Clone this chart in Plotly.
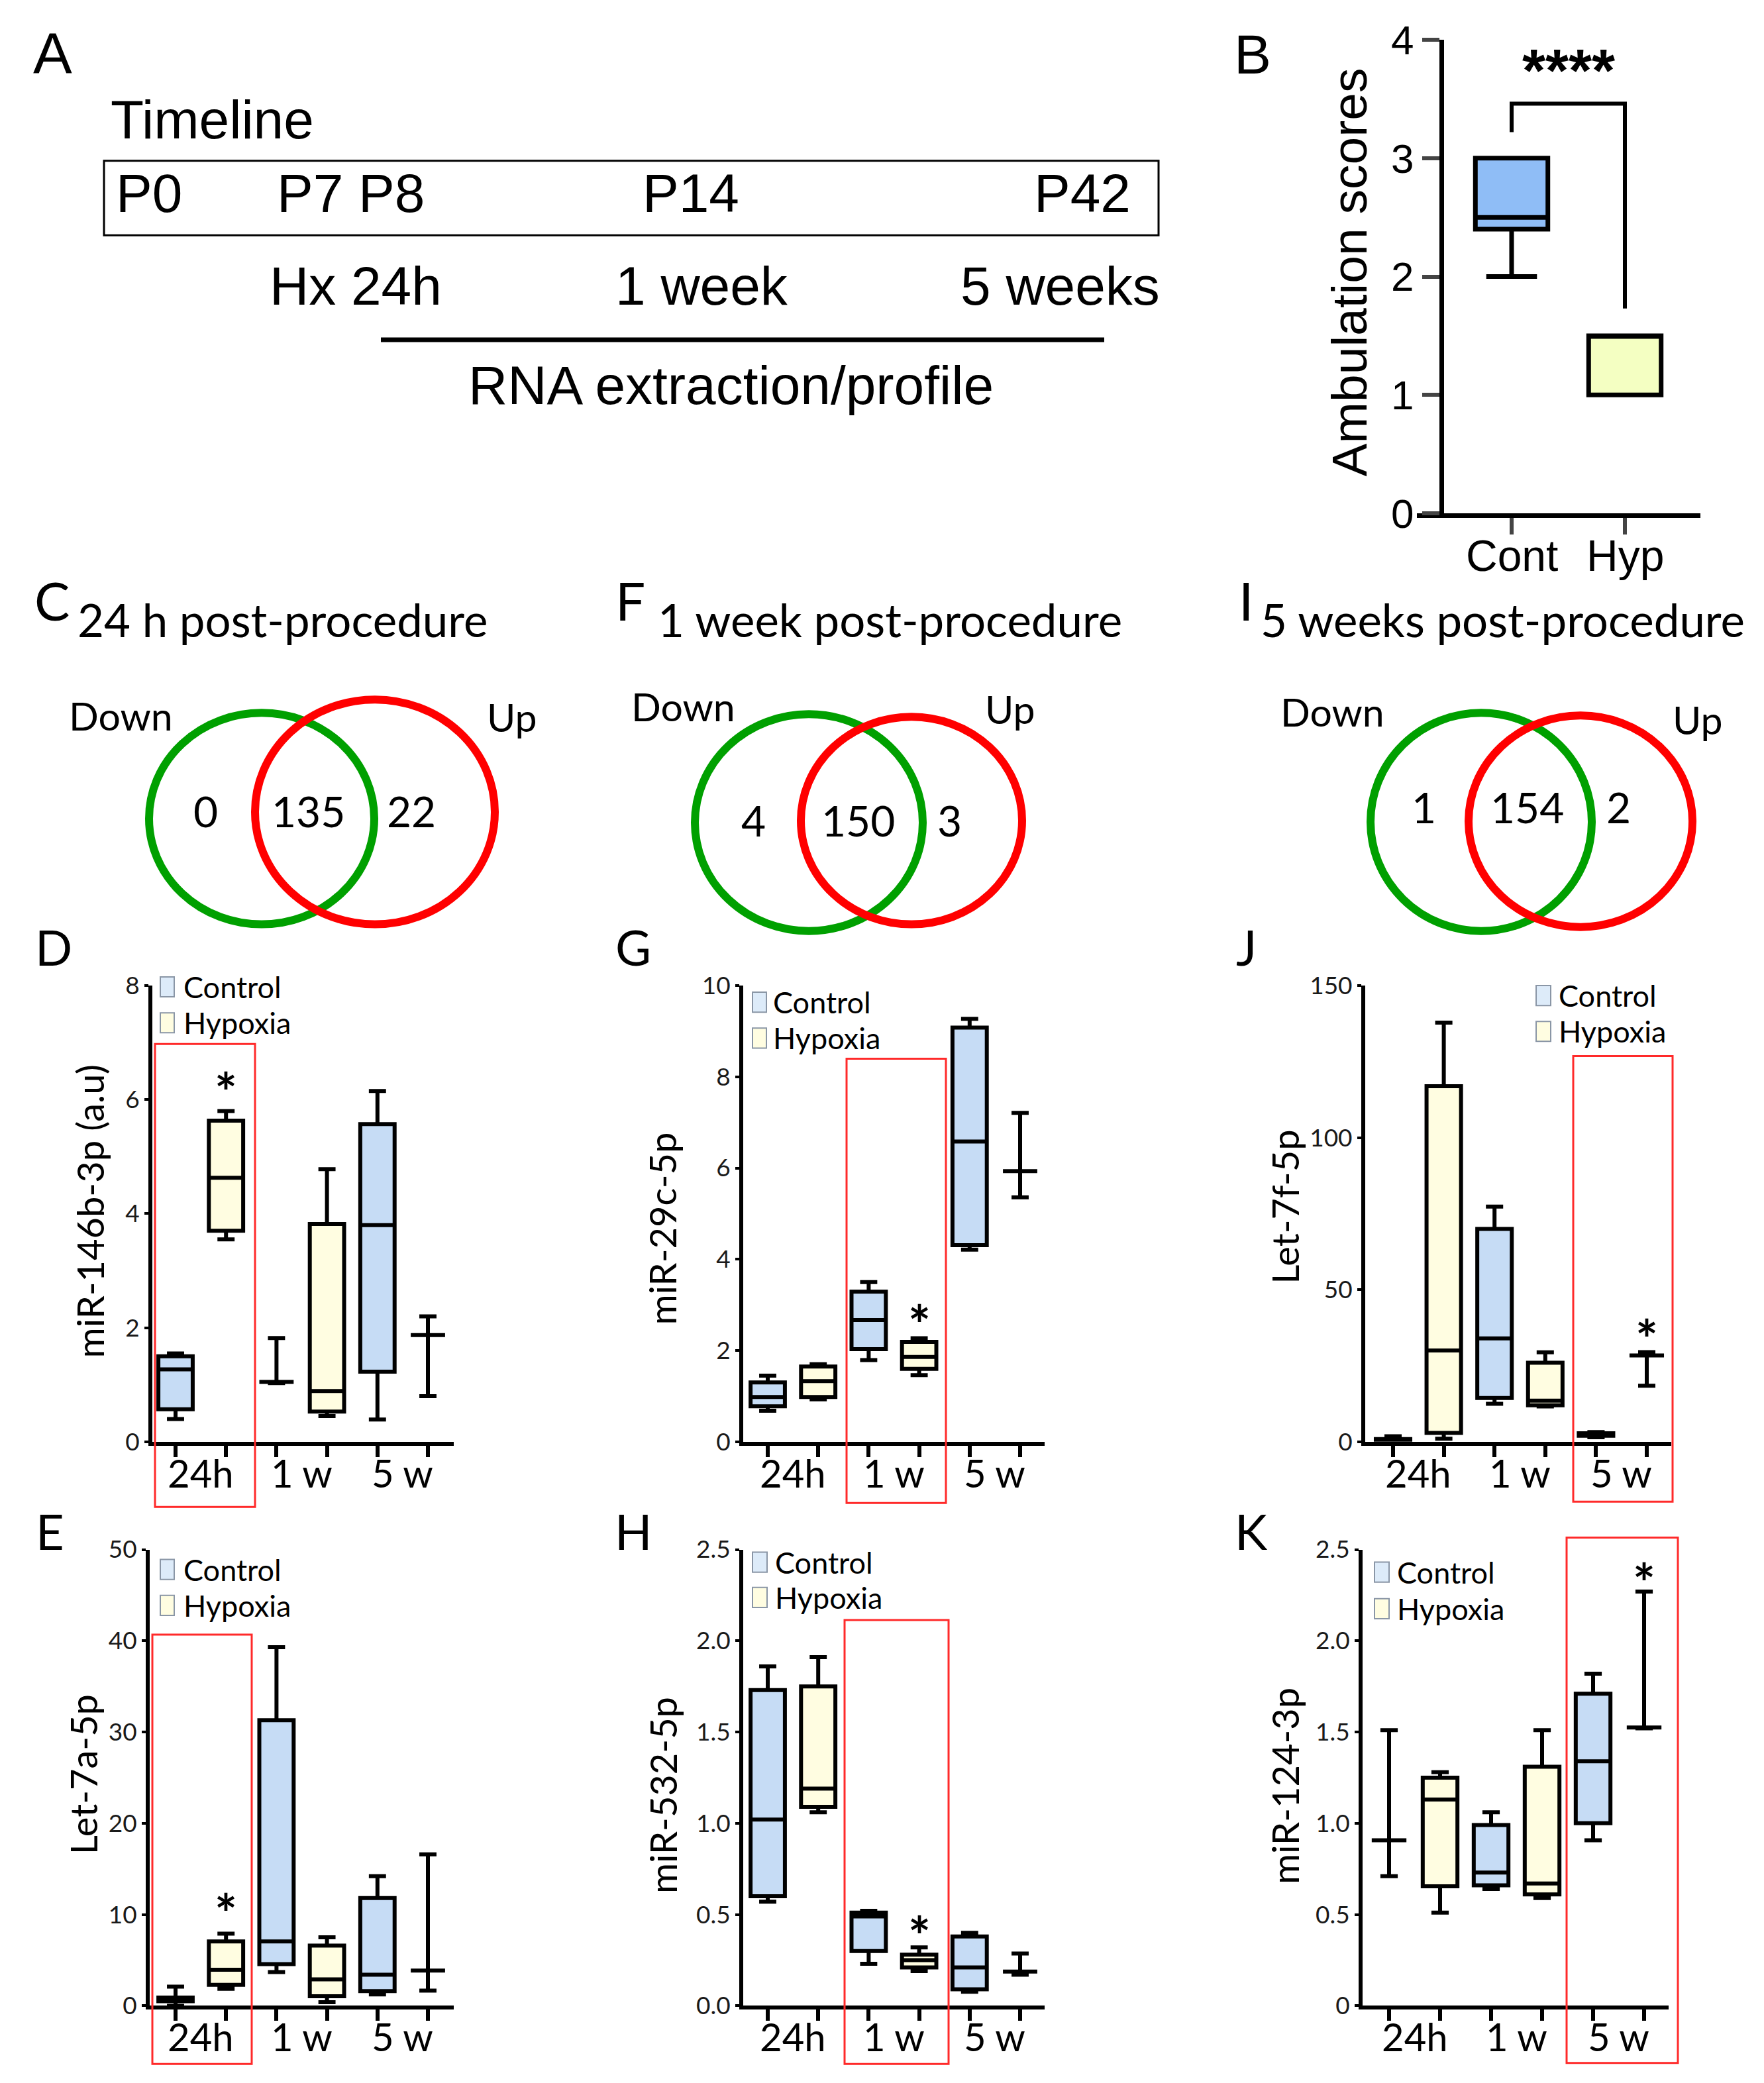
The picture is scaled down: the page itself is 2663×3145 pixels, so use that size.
import plotly.graph_objects as go

W, H = 2663, 3145

# ---------------- data ----------------
timeline_days = ["P0", "P7 P8", "P14", "P42"]
timeline_points = ["Hx 24h", "1 week", "5 weeks"]
timeline_caption = "RNA extraction/profile"

ambulation_groups = ["Cont", "Hyp"]
# [min, q1, median, q3, max]
ambulation_cont = [2.0, 2.4, 2.5, 3.0, 3.0]
ambulation_hyp = [1.0, 1.0, 1.5, 1.5, 1.5]
ambulation_ticks = [0, 1, 2, 3, 4]

venn_titles = ["24 h post-procedure", "1 week post-procedure", "5 weeks post-procedure"]
venn_down_only = [0, 4, 1]
venn_both = [135, 150, 154]
venn_up_only = [22, 3, 2]

timepoints = ["24h", "1 w", "5 w"]
groups = ["Control", "Hypoxia"]

# each row: [min, q1, median, q3, max] for 24h, 1 w, 5 w
mir146b_ctrl = [[0.40, 0.57, 1.27, 1.50, 1.55], [1.03, 1.05, 1.05, 1.05, 1.82], [0.39, 1.23, 3.80, 5.57, 6.15]]
mir146b_hyp = [[3.55, 3.70, 4.63, 5.63, 5.80], [0.45, 0.53, 0.89, 3.82, 4.78], [0.80, 1.87, 1.87, 1.87, 2.20]]

mir29c_ctrl = [[0.68, 0.78, 0.98, 1.30, 1.45], [1.79, 2.03, 2.67, 3.29, 3.50], [4.21, 4.31, 6.58, 9.08, 9.27]]
mir29c_hyp = [[0.93, 0.98, 1.33, 1.65, 1.70], [1.46, 1.60, 1.86, 2.19, 2.27], [5.36, 5.93, 5.93, 5.93, 7.21]]

let7f_ctrl = [[0.2, 0.5, 0.8, 0.9, 1.8], [12.5, 14.4, 34.0, 70.0, 77.3], [1.5, 2.0, 2.5, 2.8, 3.2]]
let7f_hyp = [[1.0, 2.9, 30.0, 116.9, 137.8], [11.6, 12.0, 13.5, 26.0, 29.4], [18.4, 28.4, 28.4, 28.4, 29.5]]

let7a_ctrl = [[0.0, 0.5, 0.8, 0.9, 2.1], [3.7, 4.56, 7.05, 31.3, 39.3], [1.24, 1.6, 3.4, 11.8, 14.2]]
let7a_hyp = [[1.87, 2.3, 3.94, 7.05, 7.9], [0.4, 1.04, 2.9, 6.6, 7.5], [1.66, 3.86, 3.86, 3.86, 16.6]]

mir532_ctrl = [[0.57, 0.60, 1.02, 1.73, 1.86], [0.23, 0.30, 0.49, 0.51, 0.52], [0.077, 0.09, 0.21, 0.38, 0.40]]
mir532_hyp = [[1.06, 1.09, 1.19, 1.75, 1.91], [0.19, 0.21, 0.25, 0.28, 0.32], [0.17, 0.187, 0.187, 0.187, 0.286]]

mir124_ctrl = [[0.71, 0.907, 0.907, 0.907, 1.51], [0.64, 0.66, 0.73, 0.99, 1.06], [0.907, 1.0, 1.34, 1.71, 1.82]]
mir124_hyp = [[0.51, 0.655, 1.13, 1.25, 1.28], [0.59, 0.61, 0.67, 1.31, 1.51], [1.52, 1.525, 1.525, 1.525, 2.27]]

ticks_146b = ["0", "2", "4", "6", "8"]
ticks_29c = ["0", "2", "4", "6", "8", "10"]
ticks_7f = ["0", "50", "100", "150"]
ticks_7a = ["0", "10", "20", "30", "40", "50"]
ticks_532 = ["0.0", "0.5", "1.0", "1.5", "2.0", "2.5"]
ticks_124 = ["0", "0.5", "1.0", "1.5", "2.0", "2.5"]

# ---------------- helpers ----------------
CAL = "Lato"
ARI = "Liberation Sans"
CTRL_FILL = "#C6DCF5"
HYP_FILL = "#FFFDE1"

# layout positions below are given in picture pixels; map them onto the page
OX, SX, OY, SY = 7.0, 1.0, 42.0, 0.974

def px(x):
    return ((x - OX) / SX) / W

def py(y):
    v = 1 - ((y - OY) / SY) / H
    return min(max(v, 0.0006), 1.0)

fig = go.Figure()
ann = []
shp = []

def txt(x, y, s, size, family=CAL, xanchor="center", **kw):
    ann.append(dict(x=px(x), y=py(y), xref="paper", yref="paper", text=s, showarrow=False,
                    font=dict(size=size, family=family, color="black"),
                    xanchor=xanchor, yanchor="middle", **kw))

def rect(x0, y0, x1, y1, color, width, fill=None):
    shp.append(dict(type="rect", xref="paper", yref="paper", x0=px(x0), x1=px(x1),
                    y0=py(y1), y1=py(y0), line=dict(color=color, width=width),
                    fillcolor=fill if fill else "rgba(0,0,0,0)"))

def ellipse(x0, y0, x1, y1, color, width):
    lw = width / 2
    shp.append(dict(type="circle", xref="paper", yref="paper", x0=px(x0 + lw), x1=px(x1 - lw),
                    y0=py(y1 - lw), y1=py(y0 + lw), line=dict(color=color, width=width)))

# ---------------- Panel A: timeline ----------------
txt(78, 80, "A", 88, ARI)
txt(164, 180, "Timeline", 82, ARI, xanchor="left")
rect(156, 242, 1748, 354, "black", 3)
for label, cx in zip(timeline_days, [224, 528, 1042, 1633]):
    txt(cx, 290, label, 82, ARI)
for label, cx in zip(timeline_points, [536, 1058, 1599]):
    txt(cx, 430, label, 82, ARI)
shp.append(dict(type="line", xref="paper", yref="paper", x0=px(574), x1=px(1666),
                y0=py(511), y1=py(511), line=dict(color="black", width=7)))
txt(1102, 579, timeline_caption, 82, ARI)

# ---------------- Panel B: ambulation ----------------
txt(1890, 82, "B", 84, ARI)
for i, (vals, fill) in enumerate([(ambulation_cont, "#8FBDF6"), (ambulation_hyp, "#F4FFC2")]):
    fig.add_trace(go.Box(x=[i + 1], lowerfence=[vals[0]], q1=[vals[1]], median=[vals[2]],
                         q3=[vals[3]], upperfence=[vals[4]], width=0.64, whiskerwidth=0.7,
                         fillcolor=fill, line=dict(color="black", width=7),
                         boxpoints=False, xaxis="x", yaxis="y", hoverinfo="skip"))
bx0, bx1, bt1, bt2 = 2138, 2566, 2281, 2452
bs = bt2 - bt1
fig.update_layout(
    xaxis=dict(domain=[px(bx0), px(bx1)], range=[1 - (bt1 - bx0) / bs, 2 + (bx1 - bt2) / bs],
               anchor="y", tickvals=[1, 2], showticklabels=False, ticks="outside",
               ticklen=25, tickwidth=6, showline=True, linewidth=7, linecolor="black",
               showgrid=False, zeroline=False),
    yaxis=dict(domain=[py(772), py(60)], range=[0, 4], anchor="free", position=px(2175),
               tickvals=ambulation_ticks, ticks="outside", ticklen=26, tickwidth=6,
               showline=True, linewidth=7, linecolor="black", showgrid=False, zeroline=False,
               tickfont=dict(size=62, family=ARI, color="black")),
)
for i, lab in enumerate(ambulation_groups):
    ann.append(dict(x=i + 1, y=py(836), xref="x", yref="paper", text=lab, showarrow=False,
                    font=dict(size=66, family=ARI, color="black"), xanchor="center",
                    yanchor="middle"))
shp.append(dict(type="path", xref="x", yref="y",
                path="M 1,3.22 L 1,3.46 L 2,3.46 L 2,1.73",
                line=dict(color="black", width=6)))
ann.append(dict(x=1.5, y=3.78, xref="x", yref="y", text="<b>****</b>", showarrow=False,
                font=dict(size=90, family=ARI, color="black"), yshift=-8))
txt(2036, 410, "Ambulation scores", 75, ARI, textangle=-90)

# ---------------- Venn row ----------------
venn_letters = ["C", "F", "I"]
venn_letter_pos = [(77, 902), (950, 902), (1880, 902)]
venn_title_x = [114, 990, 1900]
green_c = [(218, 1066, 570, 1396), (1042, 1068, 1398, 1406), (2062, 1066, 2408, 1406)]
red_c = [(378, 1046, 752, 1396), (1202, 1072, 1548, 1396), (2210, 1070, 2560, 1400)]
down_pos = [(181, 1076), (1030, 1062), (2010, 1070)]
up_pos = [(772, 1078), (1524, 1066), (2562, 1082)]
num_x = [(309, 464, 620), (1136, 1294, 1432), (2148, 2304, 2442)]
num_y = [1220, 1234, 1214]
for k in range(3):
    txt(*venn_letter_pos[k], venn_letters[k], 80)
    txt(venn_title_x[k], 932, venn_titles[k], 69, xanchor="left")
    ellipse(*green_c[k], "#00A000", 12)
    ellipse(*red_c[k], "#FF0000", 12)
    txt(*down_pos[k], "Down", 59)
    txt(*up_pos[k], "Up", 59)
    for val, cx in zip([venn_down_only[k], venn_both[k], venn_up_only[k]], num_x[k]):
        txt(cx, num_y[k], str(val), 64)

# ---------------- box panels ----------------
panels = [
    dict(letter="D", lpos=(80, 1424), n=2, x0=229, x1=684, t1=264, t6=645, ybot=2168, ytop=1482,
         ymax=8, ticks=ticks_146b, ctrl=mir146b_ctrl, hyp=mir146b_hyp, title="miR-146b-3p (a.u)",
         tpos=(134, 1822), red=(233, 1570, 384, 2266), leg=(241, 262, 1484, 1538, 274),
         star=(2, 6.23)),
    dict(letter="G", lpos=(955, 1424), n=3, x0=1121, x1=1576, t1=1158, t6=1539, ybot=2168, ytop=1482,
         ymax=10, ticks=ticks_29c, ctrl=mir29c_ctrl, hyp=mir29c_hyp, title="miR-29c-5p",
         tpos=(999, 1848), red=(1277, 1592, 1427, 2260), leg=(1135, 1156, 1507, 1561, 1164),
         star=(4, 2.7)),
    dict(letter="J", lpos=(1880, 1424), n=4, x0=2060, x1=2522, t1=2102, t6=2485, ybot=2168, ytop=1482,
         ymax=150, ticks=ticks_7f, ctrl=let7f_ctrl, hyp=let7f_hyp, title="Let-7f-5p",
         tpos=(1938, 1815), red=(2374, 1588, 2524, 2258), leg=(2318, 2340, 1497, 1551, 2350),
         star=(6, 35.6)),
    dict(letter="E", lpos=(74, 2302), n=5, x0=225, x1=684, t1=264, t6=645, ybot=3016, ytop=2330,
         ymax=50, ticks=ticks_7a, ctrl=let7a_ctrl, hyp=let7a_hyp, title="Let-7a-5p",
         tpos=(125, 2668), red=(229, 2458, 379, 3119), leg=(241, 262, 2360, 2414, 274),
         star=(2, 10.8)),
    dict(letter="H", lpos=(955, 2302), n=6, x0=1121, x1=1576, t1=1158, t6=1539, ybot=3016, ytop=2330,
         ymax=2.5, ticks=ticks_532, ctrl=mir532_ctrl, hyp=mir532_hyp, title="miR-532-5p",
         tpos=(999, 2700), red=(1274, 2436, 1431, 3111), leg=(1135, 1157, 2349, 2402, 1167),
         star=(4, 0.415)),
    dict(letter="K", lpos=(1888, 2302), n=7, x0=2056, x1=2518, t1=2096, t6=2481, ybot=3016, ytop=2330,
         ymax=2.5, ticks=ticks_124, ctrl=mir124_ctrl, hyp=mir124_hyp, title="miR-124-3p",
         tpos=(1938, 2686), red=(2364, 2312, 2532, 3102), leg=(2074, 2096, 2364, 2419, 2106),
         star=(6, 2.35)),
]

for p in panels:
    n = p["n"]
    xa, ya = f"x{n}", f"y{n}"
    s = (p["t6"] - p["t1"]) / 5
    for data, pos, fill in [(p["ctrl"], [1, 3, 5], CTRL_FILL), (p["hyp"], [2, 4, 6], HYP_FILL)]:
        fig.add_trace(go.Box(x=pos, lowerfence=[r[0] for r in data], q1=[r[1] for r in data],
                             median=[r[2] for r in data], q3=[r[3] for r in data],
                             upperfence=[r[4] for r in data], width=0.68, whiskerwidth=0.5,
                             fillcolor=fill, line=dict(color="black", width=6), boxpoints=False,
                             xaxis=xa, yaxis=ya, hoverinfo="skip"))
    nt = len(p["ticks"])
    tickvals = [p["ymax"] * i / (nt - 1) for i in range(nt)]
    fig.update_layout({
        f"xaxis{n}": dict(domain=[px(p["x0"]), px(p["x1"])],
                          range=[1 - (p["t1"] - p["x0"]) / s, 6 + (p["x1"] - p["t6"]) / s],
                          anchor=ya, tickvals=[1, 2, 3, 4, 5, 6], showticklabels=False,
                          ticks="outside", ticklen=17, tickwidth=6, tickcolor="black",
                          showline=True, linewidth=6, linecolor="black", showgrid=False,
                          zeroline=False),
        f"yaxis{n}": dict(domain=[py(p["ybot"]), py(p["ytop"])], range=[0, p["ymax"]], anchor=xa,
                          tickvals=tickvals, ticktext=p["ticks"], ticks="outside", ticklen=6,
                          tickwidth=4, tickcolor="black", showline=True, linewidth=6,
                          linecolor="black", showgrid=False, zeroline=False,
                          tickfont=dict(size=37, family=CAL, color="#1a1a1a")),
    })
    txt(*p["lpos"], p["letter"], 74)
    txt(*p["tpos"], p["title"], 56, textangle=-90)
    for j, lab in enumerate(timepoints):
        ann.append(dict(x=1.5 + 2 * j, y=py(p["ybot"] + 46), xref=xa, yref="paper", text=lab,
                        showarrow=False, font=dict(size=58, family=CAL, color="black"),
                        xanchor="center", yanchor="middle"))
    ann.append(dict(x=p["star"][0], y=p["star"][1], xref=xa, yref=ya, text="<b>*</b>",
                    showarrow=False, font=dict(size=80, family=CAL, color="black"),
                    yshift=-8))
    rx0, ry0, rx1, ry1 = p["red"]
    rect(rx0, ry0, rx1, ry1, "#FF2A2A", 3)
    lx0, lx1, lyc, lyh, ltx = p["leg"]
    rect(lx0, lyc - 15, lx1, lyc + 15, "#8a96a6", 2, "#DDEBF9")
    rect(lx0, lyh - 15, lx1, lyh + 15, "#8a96a6", 2, "#FFFDE1")
    txt(ltx, lyc, groups[0], 45, xanchor="left")
    txt(ltx, lyh, groups[1], 45, xanchor="left")

fig.update_layout(width=W, height=H, margin=dict(l=0, r=0, t=0, b=0),
                  paper_bgcolor="white", plot_bgcolor="white", showlegend=False,
                  boxmode="overlay", annotations=ann, shapes=shp)

fig.write_html("out.html")
